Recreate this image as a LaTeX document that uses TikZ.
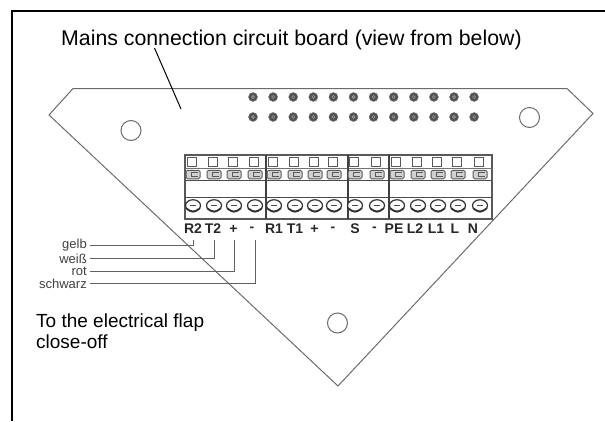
\documentclass[tikz,border=0pt]{standalone}
\usepackage{fontspec}
\setmainfont{Liberation Sans}
\usetikzlibrary{arrows}
\usetikzlibrary{shapes}
\definecolor{boardgray}{gray}{0.42}
\definecolor{wiregray}{gray}{0.38}
\tikzset{
	hole/.style={circle, draw=boardgray, line width=1pt, fill=white, minimum size=20pt, inner sep=0pt},
	pin/.style={circle, fill=black!68, draw=black!55, minimum size=9pt, inner sep=0pt},
	pincore/.style={circle, draw=black!30, line width=0.4pt, minimum size=3pt, inner sep=0pt},
	screw/.style={ellipse, draw=black!80, line width=1.2pt, fill=white, minimum width=15pt, minimum height=11.5pt, inner sep=0pt},
	latch/.style={rectangle, draw=black!65, line width=1pt, minimum size=9pt, inner sep=0pt},
	clamp/.style={rectangle, rounded corners=1.5pt, draw=black!65, line width=1pt, fill=black!18, minimum width=14pt, minimum height=8.5pt, inner sep=0pt},
	pole/.style={font=\fontsize{14}{14}\selectfont\bfseries, text=black!85, inner sep=0pt},
	wirename/.style={font=\fontsize{13}{13}\selectfont, text=black!75, inner sep=0pt, anchor=east},
	caption/.style={font=\fontsize{19}{21}\selectfont, text=black, inner sep=0pt, anchor=west, align=left},
	wire/.style={draw=wiregray, line width=1pt},
}

\begin{document}
\begin{tikzpicture}[x=1pt, y=-1pt]
\useasboundingbox (0,0) rectangle (605,421);
% frame, open on the right
\draw[black, line width=2pt] (12,421) -- (12,10.5) -- (605,10.5);
% board outline
\draw[boardgray, line width=1pt] (73,88.5) -- (567,88.5) -- (593,113.5) -- (338,386) -- (49,115) -- cycle;
\node[hole] (holeleft) at (131,130.5) {};
\node[hole] (holeright) at (529.5,117.5) {};
\node[hole] (holebottom) at (337.5,323) {};
% two rows of pins
\foreach \i in {0,...,11}{
	\node[pin] (pinup\i) at (253+20.1*\i,97) {};
	\node[pincore] at (pinup\i) {};
	\node[pin] (pindown\i) at (253+20.1*\i,117) {};
	\node[pincore] at (pindown\i) {};
}
% terminal block
\draw[black!65, line width=1.1pt] (185,155) rectangle (492,219);
\draw[black!55, line width=1pt] (185,168) -- (492,168);
\draw[black!70, line width=1.1pt] (185,180.5) -- (492,180.5);
\draw[black!70, line width=1.1pt] (185,197.5) -- (492,197.5);
\foreach \x in {266,348,389}{
	\draw[black!75, line width=1.1pt] (\x,155) -- (\x,219);
}
\foreach \x/\name in {193/rtwo, 214/ttwo, 234/plusa, 255/minusa, 274/rone, 295/tone, 315/plusb, 334/minusb, 355/sig, 377/minusc, 397/pe, 418/ltwo, 438/lone, 458/ell, 480/neu}{
	\node[latch] (latch\name) at (\x-1,161.5) {};
	\node[clamp] (clamp\name) at (\x,174.5) {};
	\draw[black!65, line width=0.8pt] (\x+5,172.5) -- (\x-2,172.5) -- (\x-2,176.5) -- (\x+5,176.5);
	\node[screw] (screw\name) at (\x,205.5) {};
	\draw[black!80, line width=1.8pt, line cap=round] ([shift={(1.5pt,-3pt)}]screw\name.west) .. controls ([yshift=-1pt]screw\name.south) .. ([shift={(-1.5pt,-3pt)}]screw\name.east);
	\draw[black!70, line width=1pt] ([xshift=-3pt]screw\name.center) -- ([xshift=3pt]screw\name.center);
}
% terminal names
\node[pole] (rtwo) at (193,229) {R2};
\node[pole] (ttwo) at (213,229) {T2};
\node[pole] (plusa) at (233.5,229) {+};
\node[pole] (minusa) at (252,229) {-};
\node[pole] (rone) at (274,229) {R1};
\node[pole] (tone) at (295,229) {T1};
\node[pole] (plusb) at (314.5,229) {+};
\node[pole] (minusb) at (333,229) {-};
\node[pole] (sig) at (355,229) {S};
\node[pole] (minusc) at (374.5,229) {-};
\node[pole] (pe) at (394,229) {PE};
\node[pole] (ltwo) at (415,229) {L2};
\node[pole] (lone) at (436,229) {L1};
\node[pole] (ell) at (455,229) {L};
\node[pole] (neu) at (473,229) {N};
% wires
\node[wirename] (gelb) at (87,245) {gelb};
\node[wirename] (weiss) at (87,258.5) {weiß};
\node[wirename] (rot) at (87,271) {rot};
\node[wirename] (schwarz) at (87,283.5) {schwarz};
\coordinate (tapgelb) at (193,240);
\coordinate (tapweiss) at (214,240);
\coordinate (taprot) at (234,240);
\coordinate (tapschwarz) at (255,240);
\draw[wire] ([xshift=3pt]gelb.east) -| (tapgelb);
\draw[wire] ([xshift=3pt]weiss.east) -| (tapweiss);
\draw[wire] ([xshift=3pt]rot.east) -| (taprot);
\draw[wire] ([xshift=3pt]schwarz.east) -| (tapschwarz);
% captions
\node[caption, font=\fontsize{21.3}{21}\selectfont] (title) at (61,40) {Mains connection circuit board (view from below)};
\node[caption] (flap) at (36,331) {To the electrical flap\\close-off};
\coordinate (starttitle) at (154.5,48);
\coordinate (tiptitle) at (181,109);
\draw[black, line width=1pt] (starttitle) -- (tiptitle);
\end{tikzpicture}
\end{document}
